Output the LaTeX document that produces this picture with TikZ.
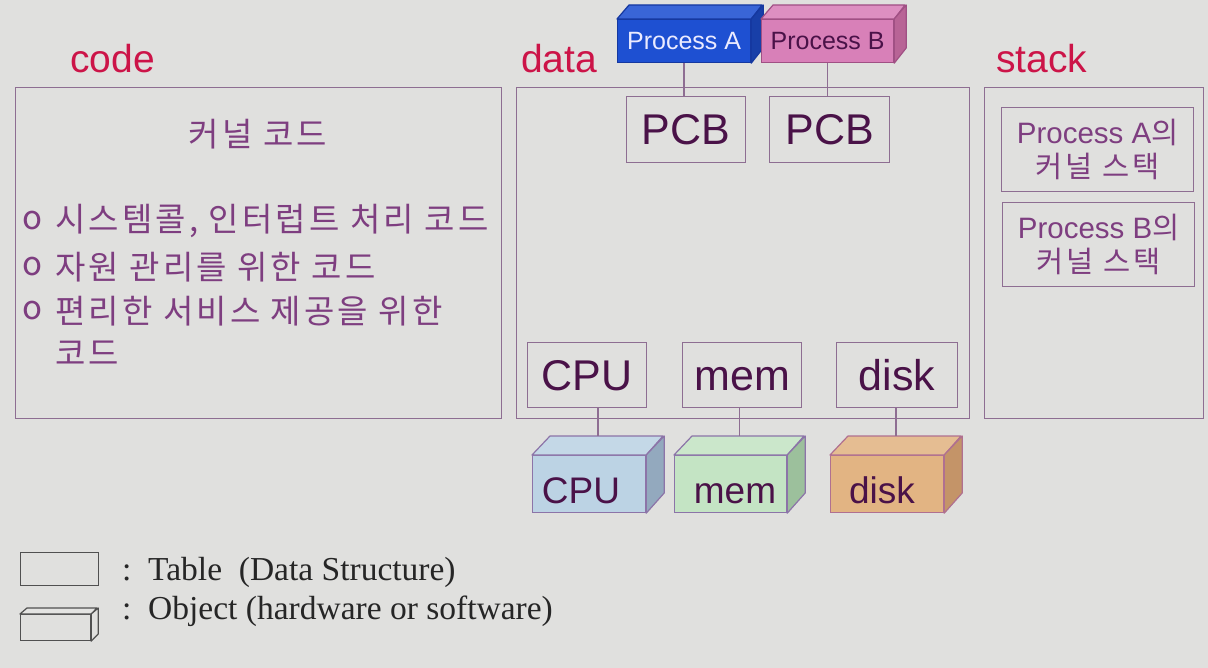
\documentclass[tikz,border=0pt]{standalone}
\usepackage{fontspec}
\setmainfont{Liberation Sans}
\newfontfamily\kr[LetterSpace=9.5]{Noto Sans CJK KR}
\newfontfamily\tms{Liberation Serif}
\usetikzlibrary{calc}
\definecolor{bg}{HTML}{E0E0DE}
\definecolor{boxc}{HTML}{8E6E92}
\definecolor{lblc}{HTML}{CC1448}
\definecolor{krc}{HTML}{7E3E80}
\definecolor{dkc}{HTML}{4A1248}
\definecolor{legc}{HTML}{505050}
\definecolor{paF}{HTML}{1E50D2}\definecolor{paS}{HTML}{183FA8}\definecolor{paE}{HTML}{1538A0}
\definecolor{pbF}{HTML}{D880B8}\definecolor{pbS}{HTML}{B86496}\definecolor{pbE}{HTML}{A05084}
\definecolor{cpF}{HTML}{BCD3E4}\definecolor{cpS}{HTML}{93A9BE}
\definecolor{meF}{HTML}{C4E4C4}\definecolor{meS}{HTML}{9CC09C}
\definecolor{diF}{HTML}{E2B483}\definecolor{diS}{HTML}{C49468}
\definecolor{cuE}{HTML}{8C74A8}\definecolor{diE}{HTML}{B07090}
\tikzset{
  tbl/.style={draw=boxc, line width=1.3pt, anchor=north west, inner sep=0pt},
  conn/.style={draw=boxc, line width=1.3pt},
  region/.style={text=lblc, font=\fontsize{39}{43}\selectfont, anchor=base west, inner sep=0pt},
  krtext/.style={text=krc, font=\kr\fontsize{33}{38}\selectfont, inner sep=0pt},
  bigtxt/.style={text=dkc, font=\fontsize{43}{47}\selectfont, inner sep=0pt, text height=30pt, text depth=0pt},
  cubetxt/.style={text=dkc, font=\fontsize{37}{40}\selectfont, inner sep=0pt, anchor=base},
  legtxt/.style={text=black!85, font=\tms\fontsize{33.5}{37}\selectfont, inner sep=0pt, anchor=base west},
  stktxt/.style={text=krc, font=\fontsize{29.5}{34}\selectfont, align=center, inner sep=0pt}
}
\def\cubeedge{boxc}
% #1 name, #2 x, #3 y, #4 w, #5 h, #6 dx, #7 dy, #8 front, #9 side
\newcommand{\mycube}[9]{%
  \node[draw=\cubeedge, fill=#8, line width=1.2pt, anchor=north west, inner sep=0pt,
        minimum width=#4pt, minimum height=#5pt] (#1) at (#2,#3) {};
  \filldraw[draw=\cubeedge, fill=#8!88!white, line width=1.2pt, line join=round]
     (#1.north west) -- ++(#6,-#7) -- ++(#4,0) -- (#1.north east) -- cycle;
  \filldraw[draw=\cubeedge, fill=#9, line width=1.2pt, line join=round]
     (#1.north east) -- ++(#6,-#7) -- ++(0,#5) -- (#1.south east) -- cycle;
  \coordinate (#1-top) at ($(#1.north)+(#6/2,-#7/2)$);
  \coordinate (#1-back) at ($(#1.north)+(#6,-#7)$);
}
\begin{document}
\begin{tikzpicture}[x=1pt,y=-1pt]
\fill[bg] (0,0) rectangle (1208,668);
\useasboundingbox (0,0) rectangle (1208,668);

% region labels
\node[region] (lcode) at (70,73) {code};
\node[region] (ldata) at (521,73) {data};
\node[region] (lstack) at (996,73) {stack};

% code area
\node[tbl, minimum width=486pt, minimum height=331pt] (codebox) at (15,87) {};
\node[krtext] (kcode) at (258,134) {커널 코드};
\node[krtext, anchor=west] (b1) at (22,221) {o};
\node[krtext, anchor=west] (t1) at (55,221) {시스템콜, 인터럽트 처리 코드};
\node[krtext, anchor=west] (b2) at (22,267) {o};
\node[krtext, anchor=west] (t2) at (55,267) {자원 관리를 위한 코드};
\node[krtext, anchor=west] (b3) at (22,311) {o};
\node[krtext, anchor=west] (t3) at (55,311) {편리한 서비스 제공을 위한};
\node[krtext, anchor=west] (t4) at (55,353) {코드};

% data area
\node[tbl, minimum width=453pt, minimum height=331pt] (databox) at (516,87) {};
\node[tbl, minimum width=119pt, minimum height=66pt, bigtxt] (pcbA) at (626,96) {PCB};
\node[tbl, minimum width=120pt, minimum height=66pt, bigtxt] (pcbB) at (769,96) {PCB};
\node[tbl, minimum width=119pt, minimum height=65pt, bigtxt] (cpuT) at (527,342) {CPU};
\node[tbl, minimum width=119pt, minimum height=65pt, bigtxt] (memT) at (682,342) {mem};
\node[tbl, minimum width=121pt, minimum height=65pt, bigtxt] (diskT) at (836,342) {disk};

% process cubes
\def\cubeedge{paE}
\mycube{procA}{617}{19}{133}{43}{12}{14}{paF}{paS}
\node[text=blue!8!white, font=\fontsize{25}{28}\selectfont, inner sep=0pt] (tA) at (procA.center) {Process A};
\def\cubeedge{pbE}
\mycube{procB}{761}{19}{132}{43}{12}{14}{pbF}{pbS}
\node[text=dkc, font=\fontsize{25}{28}\selectfont, inner sep=0pt] (tB) at (procB.center) {Process B};

\draw[conn] (procA.south) -- (procA.south |- pcbA.north);
\draw[conn] (procB.south) -- (procB.south |- pcbB.north);

% hardware cubes
\def\cubeedge{cuE}
\mycube{cpuC}{532}{455}{113}{57}{18}{19}{cpF}{cpS}
\node[cubetxt] (tcpu) at (581,503) {CPU};
\mycube{memC}{674}{455}{112}{57}{18}{19}{meF}{meS}
\node[cubetxt] (tmem) at (735,503) {mem};
\def\cubeedge{diE}
\mycube{diskC}{830}{455}{113}{57}{18}{19}{diF}{diS}
\node[cubetxt] (tdisk) at (882,503) {disk};

\draw[conn] (cpuC-top |- cpuT.south) -- (cpuC-top |- cpuC-back);
\draw[conn] (memC-top |- memT.south) -- (memC-top |- memC-back);
\draw[conn] (diskC-top |- diskT.south) -- (diskC-top |- diskC-back);

% stack area
\node[tbl, minimum width=219pt, minimum height=331pt] (stackbox) at (984,87) {};
\node[tbl, minimum width=192pt, minimum height=84pt] (stA) at (1001,107) {};
\node[stktxt] (stAt) at (stA.center) {Process A{\kr 의}\\{\kr 커널 스택}};
\node[tbl, minimum width=192pt, minimum height=84pt] (stB) at (1002,202) {};
\node[stktxt] (stBt) at (stB.center) {Process B{\kr 의}\\{\kr 커널 스택}};

% legend
\node[draw=legc, line width=1.2pt, anchor=north west, inner sep=0pt, minimum width=78pt, minimum height=33pt] (legT) at (20,552) {};
\def\cubeedge{legc}
\mycube{legC}{20}{614}{70}{26}{7}{6}{bg}{bg}
\node[legtxt] (legTc) at (122,580) {:};
\node[legtxt] (legTt) at (148,580) {Table\ \ (Data Structure)};
\node[legtxt] (legCc) at (122,619) {:};
\node[legtxt] (legCt) at (148,619) {Object (hardware or software)};
\end{tikzpicture}
\end{document}
